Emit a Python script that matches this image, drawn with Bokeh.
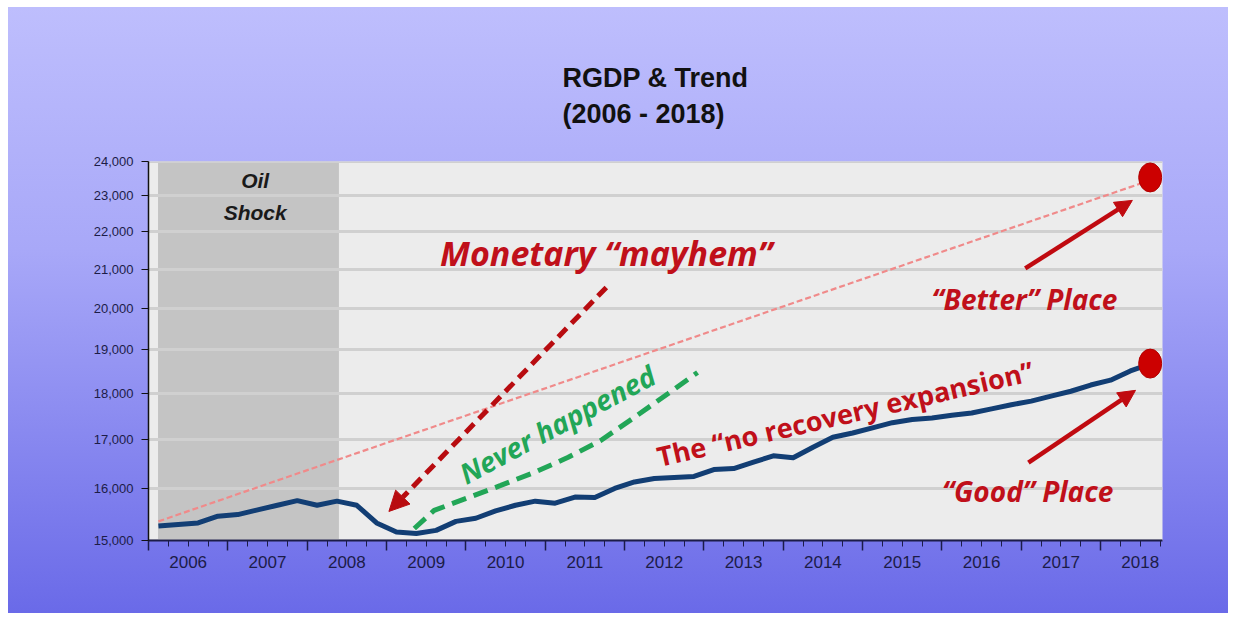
from bokeh.plotting import figure
from bokeh.models import (Range1d, FixedTicker, NumeralTickFormatter, LinearAxis,
                          BoxAnnotation, Arrow, NormalHead)
from bokeh.core.properties import value
from bokeh.embed import file_html
from bokeh.resources import INLINE

# ---------------- data ----------------
quarters = [f"{y}Q{q}" for y in range(2006, 2019) for q in range(1, 5)][:51]
rgdp = [15270, 15300, 15330, 15460,
        15490, 15580, 15670, 15760,
        15670, 15750, 15670, 15330,
        15160, 15130, 15190, 15360,
        15420, 15560, 15670, 15750,
        15710, 15830, 15820, 16000,
        16130, 16200, 16220, 16240,
        16380, 16400, 16530, 16660,
        16620, 16840, 17050, 17140,
        17250, 17360, 17430, 17460,
        17520, 17570, 17660, 17750,
        17830, 17940, 18050, 18190,
        18300, 18510, 18670]

trend_q = ["2006Q1", "2018Q3"]
trend_vals = [15360, 23450]

never_x = [2009.35, 2009.60, 2010.03, 2010.44, 2010.86, 2011.29, 2011.70, 2012.12, 2012.55, 2012.92]
never_y = [15225, 15570, 15820, 16060, 16320, 16630, 16980, 17470, 18000, 18475]

dot_q = ["2018Q3", "2018Q3"]
dot_vals = [23530, 18680]

years = list(range(2006, 2019))
year_labels = [str(y) for y in years]
y_ticks = [15000, 16000, 17000, 18000, 19000, 20000, 21000, 22000, 23000, 24000]

shock_start, shock_end = 2006.12, 2008.40

# annotations (data coords)
mayhem_arrow = dict(x0=2011.77, y0=20530, x1=2009.03, y1=15550)
better_arrow = dict(x0=2017.05, y0=21020, x1=2018.40, y1=22870)
good_arrow = dict(x0=2017.09, y0=16520, x1=2018.44, y1=18070)


def qpos(q):
    y, n = q.split("Q")
    return int(y) + (int(n) - 0.5) / 4.0


qx = [qpos(q) for q in quarters]
trend_x = [qpos(q) for q in trend_q]
dot_x = [qpos(q) for q in dot_q]

RED = "#c0101a"
GREEN = "#22a657"
NAVY = "#123e74"
AXC = "#1c1c48"

p = figure(width=1220, height=606, output_backend="svg", toolbar_location=None,
           x_range=Range1d(2006.0, 2018.78), y_range=Range1d(15000, 24000),
           y_axis_type="log", x_axis_location=None,
           min_border_left=140, min_border_right=66, min_border_top=154,
           min_border_bottom=73, margin=(7, 7, 8, 8))
p.styles = {"background": "linear-gradient(to bottom, #bebefd 0%, #a8a8f8 40%, #6a6ae8 100%)"}
p.border_fill_color = None
p.background_fill_color = "#ececec"
p.outline_line_color = None

# title (two lines)
p.title.text = "RGDP & Trend\n(2006 - 2018)"
p.title.align = "center"
p.title.text_font = "Liberation Sans"
p.title.text_font_size = "27px"
p.title.text_font_style = "bold"
p.title.text_color = "#111111"
p.title.text_line_height = 1.2
p.title.standoff = 66

# y axis
yax = p.yaxis[0]
yax.ticker = FixedTicker(ticks=y_ticks)
yax.formatter = NumeralTickFormatter(format="0,0")
yax.major_label_text_font = "Liberation Sans"
yax.major_label_text_font_size = "13px"
yax.major_label_text_color = AXC
yax.axis_line_color = "#111111"
yax.axis_line_width = 1.5
yax.major_tick_line_color = "#111111"
yax.major_tick_out = 7
yax.major_tick_in = 0
yax.minor_tick_line_color = None
yax.major_label_standoff = 8

p.ygrid.visible = False
p.xgrid.visible = False

# x axes: tick axis and label axis
quarter_bounds = [y + k / 4.0 for y in range(2006, 2019) for k in range(4)]
xa = LinearAxis(ticker=FixedTicker(ticks=years, minor_ticks=quarter_bounds))
xa.major_label_overrides = {y: "" for y in years}
xa.major_label_text_font_size = "0px"
xa.major_label_standoff = 0
xa.axis_line_color = AXC
xa.axis_line_width = 2
xa.major_tick_line_color = AXC
xa.major_tick_line_width = 1.5
xa.major_tick_out = 10
xa.major_tick_in = 0
xa.minor_tick_line_color = AXC
xa.minor_tick_out = 6
xa.minor_tick_in = 0
p.add_layout(xa, "below")

mid_years = [y + 0.5 for y in years]
xb = LinearAxis(ticker=FixedTicker(ticks=mid_years))
xb.major_label_overrides = {m: s for m, s in zip(mid_years, year_labels)}
xb.axis_line_color = None
xb.major_tick_line_color = None
xb.minor_tick_line_color = None
xb.major_tick_out = 0
xb.major_tick_in = 0
xb.major_label_standoff = 5
xb.major_label_text_font = "Liberation Sans"
xb.major_label_text_font_size = "17px"
xb.major_label_text_color = AXC
p.add_layout(xb, "below")

# shaded region (below everything)
p.add_layout(BoxAnnotation(left=shock_start, right=shock_end, fill_color="#c4c4c4",
                           fill_alpha=1.0, line_color=None, level="underlay"))

# horizontal grid lines drawn over the shade
p.hspan(y=y_ticks, line_color="#d0d0d0", line_width=3)

# trend line
p.line(trend_x, trend_vals, line_color="#f08a8a", line_width=2.2, line_dash="6 3")

# never happened curve
p.line(never_x, never_y, line_color=GREEN, line_width=5, line_dash="15 8")

# RGDP
p.line(qx, rgdp, line_color=NAVY, line_width=5, line_join="round")

# dots
p.ellipse(dot_x, dot_vals, width=23, height=29, width_units="screen", height_units="screen",
          fill_color="#cc0000", line_color="#b00000")

# arrows
p.add_layout(Arrow(end=NormalHead(size=20, fill_color="#b80c10", line_color="#b80c10"),
                   x_start=mayhem_arrow["x0"], y_start=mayhem_arrow["y0"],
                   x_end=mayhem_arrow["x1"], y_end=mayhem_arrow["y1"],
                   line_color="#b80c10", line_width=5, line_dash="12 7"))
for a in (better_arrow, good_arrow):
    p.add_layout(Arrow(end=NormalHead(size=17, fill_color="#c00a10", line_color="#c00a10"),
                       x_start=a["x0"], y_start=a["y0"], x_end=a["x1"], y_end=a["y1"],
                       line_color="#c00a10", line_width=4.5))

# texts
p.text([2007.344, 2007.344], [23448, 22535], text=["Oil", "Shock"],
       text_font=value("Liberation Sans"), text_font_size="21px",
       text_font_style="bold italic", text_color="#1a1a1a",
       text_align="center", text_baseline="middle")

p.text([2011.77], [21417], text=["Monetary \u201cmayhem\u201d"], text_font=value("Open Sans"),
       text_font_size="34px", text_font_style="bold italic", text_color=RED,
       text_align="center", text_baseline="middle")

p.text([2011.15], [17330], text=["Never happened"], text_font=value("Open Sans"),
       text_font_size="28px", text_font_style="bold italic", text_color=GREEN,
       text_align="center", text_baseline="middle", angle=0.49)

p.text([2014.78], [17560], text=["The \u201cno recovery expansion\u201d"], text_font=value("Open Sans"),
       text_font_size="27px", text_font_style="bold", text_color=RED,
       text_align="center", text_baseline="middle", angle=0.227)

p.text([2017.04, 2017.08], [20228, 15940], text=["\u201cBetter\u201d Place", "\u201cGood\u201d Place"],
       text_font=value("Open Sans"), text_font_size="28px", text_font_style="bold italic",
       text_color=RED, text_align="center", text_baseline="middle")

open("out.html", "w").write(file_html(p, INLINE))
